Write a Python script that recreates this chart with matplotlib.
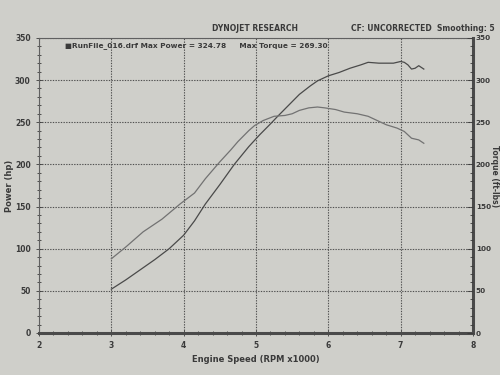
import matplotlib.pyplot as plt
import numpy as np

# dyno run
rpm_hp = [3.0, 3.2, 3.4, 3.6, 3.8, 4.0, 4.15, 4.3, 4.5, 4.7, 4.9, 5.05, 5.2, 5.3, 5.45,
          5.6, 5.75, 5.85, 6.0, 6.15, 6.3, 6.45, 6.55, 6.7, 6.9, 7.0, 7.05, 7.1, 7.15,
          7.2, 7.25, 7.32]
power = [52, 63, 75, 87, 100, 116, 133, 153, 176, 200, 221, 235, 248, 257, 270,
         283, 293, 299, 305, 309, 314, 318, 321, 320, 320, 322, 321, 318, 313,
         314, 317, 313]

rpm_tq = [3.0, 3.2, 3.44, 3.7, 3.95, 4.15, 4.3, 4.5, 4.65, 4.75, 4.9, 4.98, 5.1, 5.25,
          5.4, 5.5, 5.6, 5.73, 5.85, 5.95, 6.1, 6.22, 6.4, 6.55, 6.7, 6.8, 6.95,
          7.05, 7.15, 7.25, 7.32]
torque = [88, 102, 120, 135, 153, 166, 183, 203, 217, 227, 240, 246, 252, 257,
          258, 260, 264, 267, 268, 267, 265, 262, 260, 257, 251, 247, 243,
          239, 231, 229, 225]

xticks = [2, 3, 4, 5, 6, 7, 8]
yticks = [0, 50, 100, 150, 200, 250, 300, 350]

paper = '#cfcfca'
ink = '#3a3a3a'

fig = plt.figure(figsize=(5, 3.75), dpi=100, facecolor=paper)
ax = fig.add_axes([0.078, 0.112, 0.868, 0.787], facecolor=paper)

ax.plot(rpm_hp, power, color='#4a4a4a', lw=0.9)
ax.plot(rpm_tq, torque, color='#727272', lw=0.9)

ax.set_xlim(2, 8)
ax.set_ylim(0, 350)
ax.set_xticks(xticks)
ax.set_yticks(yticks)
ax.set_xticks(np.arange(2, 8.01, 0.2), minor=True)
ax.set_yticks(np.arange(0, 351, 10), minor=True)
ax.grid(True, which='major', color='#505050', ls=(0, (1.2, 1.2)), lw=0.8)

fs = 5.5
ax.tick_params(axis='both', which='both', direction='inout', colors=ink,
               labelsize=fs, width=0.6)
ax.tick_params(which='major', length=5)
ax.tick_params(which='minor', length=3)
for lab in ax.get_xticklabels() + ax.get_yticklabels():
    lab.set_fontweight('bold')

for s in ['top', 'left']:
    ax.spines[s].set_color('#606060')
    ax.spines[s].set_linewidth(0.8)
for s in ['bottom', 'right']:
    ax.spines[s].set_color('#4a4a4a')
    ax.spines[s].set_linewidth(2.2)

ax2 = ax.twinx()
ax2.set_ylim(0, 350)
ax2.set_yticks(yticks)
ax2.set_yticks(np.arange(0, 351, 10), minor=True)
ax2.tick_params(axis='y', which='both', direction='in', colors=ink,
                labelsize=5.2, width=0.6, pad=2)
ax2.tick_params(which='major', length=4)
ax2.tick_params(which='minor', length=2)
for lab in ax2.get_yticklabels():
    lab.set_fontweight('bold')
for s in ax2.spines.values():
    s.set_visible(False)

ax.set_xlabel('Engine Speed (RPM x1000)', fontsize=6, fontweight='bold', color=ink, labelpad=3)
ax.set_ylabel('Power (hp)', fontsize=6, fontweight='bold', color=ink, labelpad=1)
fig.text(0.99, 0.53, 'Torque (ft-lbs)', rotation=-90, ha='center', va='center',
         fontsize=5.5, fontweight='bold', color=ink)

fig.text(0.51, 0.918, 'DYNOJET RESEARCH', ha='center', fontsize=5.5,
         fontweight='bold', color=ink)
fig.text(0.99, 0.918, 'CF: UNCORRECTED  Smoothing: 5', ha='right', fontsize=5.5,
         fontweight='bold', color=ink)
ax.text(0.06, 0.985, '\u25a0RunFile_016.drf Max Power = 324.78     Max Torque = 269.30',
        transform=ax.transAxes, ha='left', va='top', fontsize=5.3,
        fontweight='bold', color=ink)

fig.savefig('out.png', dpi=100, facecolor=paper)
